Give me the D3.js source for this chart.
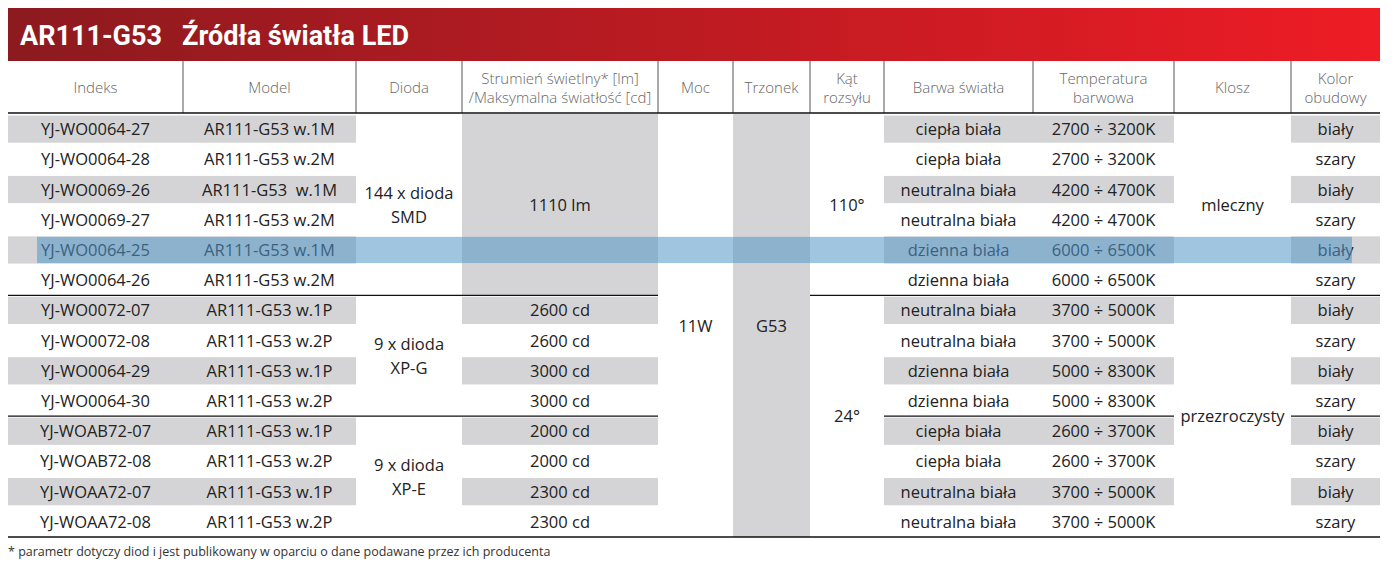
<!DOCTYPE html>
<html lang="pl">
<head>
<meta charset="UTF-8">
<title>AR111-G53 Źródła światła LED</title>
<script src="https://d3js.org/d3.v7.min.js"></script>
<style>
  body { margin: 0; background: #fff; }
  text { font-family: "Open Sans", "Noto Sans", sans-serif; }
</style>
</head>
<body>
<svg id="tbl" width="1397" height="570"></svg>
<script>
// Column headers
const headers = [["Indeks"], ["Model"], ["Dioda"], ["Strumień świetlny* [lm]", "/Maksymalna światłość [cd]"],
  ["Moc"], ["Trzonek"], ["Kąt", "rozsyłu"], ["Barwa światła"], ["Temperatura", "barwowa"], ["Klosz"], ["Kolor", "obudowy"]];

// Per-row values
const indeks = ["YJ-WO0064-27","YJ-WO0064-28","YJ-WO0069-26","YJ-WO0069-27","YJ-WO0064-25","YJ-WO0064-26",
  "YJ-WO0072-07","YJ-WO0072-08","YJ-WO0064-29","YJ-WO0064-30","YJ-WOAB72-07","YJ-WOAB72-08","YJ-WOAA72-07","YJ-WOAA72-08"];
const model = ["AR111-G53 w.1M","AR111-G53 w.2M","AR111-G53  w.1M","AR111-G53 w.2M","AR111-G53 w.1M","AR111-G53 w.2M",
  "AR111-G53 w.1P","AR111-G53 w.2P","AR111-G53 w.1P","AR111-G53 w.2P","AR111-G53 w.1P","AR111-G53 w.2P","AR111-G53 w.1P","AR111-G53 w.2P"];
const strumien = [null,null,null,null,null,null,"2600 cd","2600 cd","3000 cd","3000 cd","2000 cd","2000 cd","2300 cd","2300 cd"];
const barwa = ["ciepła biała","ciepła biała","neutralna biała","neutralna biała","dzienna biała","dzienna biała",
  "neutralna biała","neutralna biała","dzienna biała","dzienna biała","ciepła biała","ciepła biała","neutralna biała","neutralna biała"];
const temperatura = ["2700 ÷ 3200K","2700 ÷ 3200K","4200 ÷ 4700K","4200 ÷ 4700K","6000 ÷ 6500K","6000 ÷ 6500K",
  "3700 ÷ 5000K","3700 ÷ 5000K","5000 ÷ 8300K","5000 ÷ 8300K","2600 ÷ 3700K","2600 ÷ 3700K","3700 ÷ 5000K","3700 ÷ 5000K"];
const kolor = ["biały","szary","biały","szary","biały","szary","biały","szary","biały","szary","biały","szary","biały","szary"];

// Merged cells: [column, firstRow, lastRow, lines, gray]
const merged = [
  [2, 0, 5, ["144 x dioda", "SMD"], false],
  [2, 6, 9, ["9 x dioda", "XP-G"], false],
  [2, 10, 13, ["9 x dioda", "XP-E"], false],
  [3, 0, 5, ["1110 lm"], true],
  [4, 0, 13, ["11W"], false],
  [5, 0, 13, ["G53"], true],
  [6, 0, 5, ["110°"], false],
  [6, 6, 13, ["24°"], false],
  [9, 0, 5, ["mleczny"], false],
  [9, 6, 13, ["przezroczysty"], false]
];
const highlightRow = 4;

const colEdges = [8, 183, 356, 462, 658, 733, 810, 884, 1033, 1174, 1291, 1380];
const svg = d3.select("#tbl");
const x = i => colEdges[i];
const xc = i => (colEdges[i] + colEdges[i + 1]) / 2;
const y = d3.scaleLinear().domain([0, 14]).range([114, 537]);
const rowH = y(1) - y(0);
const gray = "#d4d4d6", txt = "#222";

// title bar
const grad = svg.append("defs").append("linearGradient").attr("id", "g1");
grad.append("stop").attr("offset", "0%").attr("stop-color", "#8c1a1f");
grad.append("stop").attr("offset", "100%").attr("stop-color", "#ee1c25");
svg.append("rect").attr("x", 8).attr("y", 8).attr("width", 1372).attr("height", 53).attr("fill", "url(#g1)");
svg.append("text").attr("x", 20).attr("y", 45).attr("fill", "#fff")
  .style("font-family", "Roboto, sans-serif").style("font-weight", "bold").style("font-size", "27px")
  .text("AR111-G53   Źródła światła LED").attr("xml:space", "preserve");

// header
headers.forEach((h, i) => {
  if (i > 0) svg.append("line").attr("x1", x(i)).attr("x2", x(i)).attr("y1", 61).attr("y2", 113).attr("stroke", "#555");
  h.forEach((l, k) => svg.append("text").attr("x", xc(i)).attr("y", 93 + (k - (h.length - 1) / 2) * 19)
    .attr("text-anchor", "middle").attr("fill", "#666").style("font-size", "15px").style("font-weight", 300).text(l));
});

// alternating gray cells
const grayCols = [0, 1, 7, 8, 10];
for (let r = 0; r < 14; r += 2) {
  [[0, 2], [7, 9], [10, 11]].forEach(([a, b]) =>
    svg.append("rect").attr("x", x(a)).attr("y", y(r) + 1.5).attr("width", x(b) - x(a)).attr("height", rowH - 3).attr("fill", gray));
  if (strumien[r] !== null)
    svg.append("rect").attr("x", x(3)).attr("y", y(r) + 1.5).attr("width", x(4) - x(3)).attr("height", rowH - 3).attr("fill", gray);
}
merged.filter(m => m[4]).forEach(m =>
  svg.append("rect").attr("x", x(m[0])).attr("y", y(m[1])).attr("width", x(m[0] + 1) - x(m[0]))
    .attr("height", y(m[2] + 1) - y(m[1])).attr("fill", gray));

// cell texts
const cell = (col, r, s) => svg.append("text").attr("x", xc(col)).attr("y", y(r) + rowH / 2 + 6)
  .attr("text-anchor", "middle").attr("fill", txt).style("font-size", "16.5px").attr("xml:space", "preserve").text(s);
indeks.forEach((s, r) => {
  cell(0, r, s); cell(1, r, model[r]);
  if (strumien[r]) cell(3, r, strumien[r]);
  cell(7, r, barwa[r]); cell(8, r, temperatura[r]); cell(10, r, kolor[r]);
});
merged.forEach(([c, a, b, lines]) => {
  const mid = (y(a) + y(b + 1)) / 2;
  lines.forEach((l, k) => svg.append("text").attr("x", xc(c)).attr("y", mid + 6 + (k - (lines.length - 1) / 2) * 24)
    .attr("text-anchor", "middle").attr("fill", txt).style("font-size", "16.5px").text(l));
});

// selection highlight
svg.append("rect").attr("x", 37).attr("y", y(highlightRow) + 2).attr("width", 1352 - 37).attr("height", rowH - 4)
  .attr("fill", "rgb(80,150,200)").attr("opacity", 0.55);

// rules
const hline = (x1, x2, yy) => svg.append("line").attr("x1", x1).attr("x2", x2).attr("y1", yy).attr("y2", yy).attr("stroke", "#111").attr("stroke-width", 1.3);
hline(8, 1380, 113);
hline(8, x(4), y(6)); hline(x(6), 1380, y(6));
hline(8, x(4), y(10)); hline(x(7), x(9), y(10)); hline(x(10), 1380, y(10));
hline(8, 1380, y(14));

svg.append("text").attr("x", 8).attr("y", 556).attr("fill", "#333").style("font-size", "12.5px")
  .text("* parametr dotyczy diod i jest publikowany w oparciu o dane podawane przez ich producenta");
</script>
</body>
</html>
